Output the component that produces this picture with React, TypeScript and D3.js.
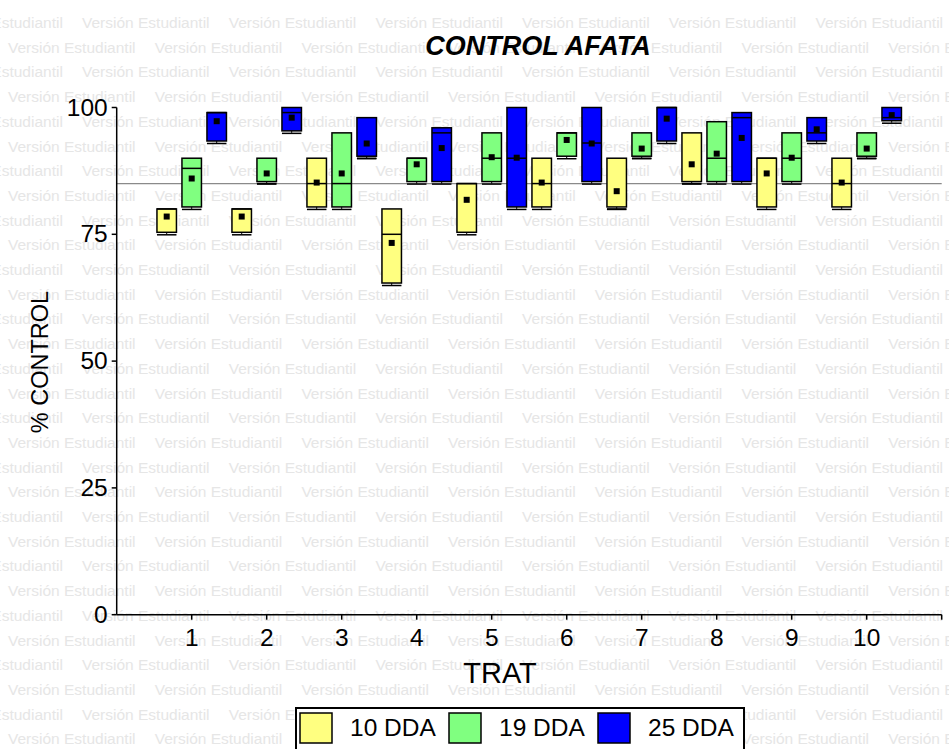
import React from "react";
import { scaleLinear, scaleOrdinal, range } from "d3";

// treatments and series
const trats = [1, 2, 3, 4, 5, 6, 7, 8, 9, 10];
const seriesNames = ["10 DDA", "19 DDA", "25 DDA"];
const seriesColors = ["#ffff80", "#80ff80", "#0000ff"];

// 10 DDA
const q1_10 = [75, 75, 80, 65, 75, 80, 80, 85, 80, 80];
const q3_10 = [80, 80, 90, 80, 85, 90, 90, 95, 90, 90];
const med_10 = [80, 80, 85, 75, 85, 85, 80, 85, 90, 85];
const mean_10 = [78.5, 78.5, 85.2, 73.3, 81.8, 85.2, 83.5, 88.8, 87, 85.2];

// 19 DDA
const q1_19 = [80, 85, 80, 85, 85, 90, 90, 85, 85, 90];
const q3_19 = [90, 90, 95, 90, 95, 95, 95, 97.2, 95, 95];
const med_19 = [88, 85, 85, 90, 90, 95, 90, 90, 90, 90];
const mean_19 = [86, 87, 87, 88.8, 90.2, 93.6, 91.9, 90.9, 90.1, 91.9];

// 25 DDA
const q1_25 = [93, 95, 90, 85, 80, 85, 93, 85, 93, 97];
const q3_25 = [99, 100, 98, 96, 100, 100, 100, 99, 98, 100];
const med_25 = [99, 99, 90, 95, 90, 93, 100, 98, 95, 98];
const mean_25 = [97.3, 98, 92.9, 92, 90.1, 92.9, 97.8, 94, 95.7, 98.5];

const yTicks = [0, 25, 50, 75, 100];
const refValue = 85;

const W = 949;
const H = 749;
const FONT = "'Liberation Sans', Arial, sans-serif";

const App = () => {
  const x = scaleLinear().domain([0, 11]).range([116.7, 941.7]);
  const y = scaleLinear().domain([0, 100]).range([614.7, 107.5]);
  const color = scaleOrdinal<string, string>().domain(seriesNames).range(seriesColors);

  const groups = [
    { name: seriesNames[0], q1: q1_10, q3: q3_10, med: med_10, mean: mean_10, off: -1 / 3 },
    { name: seriesNames[1], q1: q1_19, q3: q3_19, med: med_19, mean: mean_19, off: 0 },
    { name: seriesNames[2], q1: q1_25, q3: q3_25, med: med_25, mean: mean_25, off: 1 / 3 },
  ];
  const bw = x(0.26) - x(0);

  // watermark rows
  const rowStep = 24.7;
  const colStep = 146.7;
  const watermark = range(30).map((r) => {
    const start = r % 2 === 0 ? -64.7 : 8;
    return range(8).map((c) => (
      <text
        key={`${r}-${c}`}
        x={start + c * colStep}
        y={28 + r * rowStep}
        fontSize={15.5}
        fill="#e6e6e6"
      >
        Versión Estudiantil
      </text>
    ));
  });

  const boxes = groups.map((g) =>
    trats.map((t, i) => {
      const cx = x(t + g.off);
      const top = y(g.q3[i]);
      const bot = y(g.q1[i]);
      return (
        <g key={`${g.name}-${t}`}>
          <rect
            x={cx - bw / 2}
            y={top}
            width={bw}
            height={Math.max(bot - top - 2, 1)}
            fill={color(g.name)}
            stroke="#000"
            strokeWidth={1.5}
          />
          <line x1={cx} x2={cx} y1={bot - 2} y2={bot} stroke="#000" strokeWidth={1} />
          <line x1={cx - bw / 2} x2={cx + bw / 2} y1={bot + 0.5} y2={bot + 0.5} stroke="#000" strokeWidth={1.5} />
          <line
            x1={cx - bw / 2}
            x2={cx + bw / 2}
            y1={y(g.med[i])}
            y2={y(g.med[i])}
            stroke="#000"
            strokeWidth={1.5}
          />
          <rect x={cx - 3} y={y(g.mean[i]) - 3} width={6} height={6} fill="#000" />
        </g>
      );
    })
  );

  return (
    <svg
      width={W}
      height={H}
      viewBox={`0 0 ${W} ${H}`}
      style={{ position: "absolute", left: 0, top: 0, background: "#fff" }}
      fontFamily={FONT}
    >
      <rect width={W} height={H} fill="#fff" />
      <g>{watermark}</g>

      {/* reference line */}
      <line x1={x(0)} x2={x(11)} y1={y(refValue)} y2={y(refValue)} stroke="#8a8a8a" strokeWidth={1.2} />

      {boxes}

      {/* axes */}
      <line x1={x(0)} x2={x(0)} y1={y(100)} y2={y(0)} stroke="#000" strokeWidth={1.5} />
      <line x1={x(0)} x2={x(11)} y1={y(0)} y2={y(0)} stroke="#000" strokeWidth={1.5} />
      {yTicks.map((v) => (
        <g key={v}>
          <line x1={x(0) - 5} x2={x(0)} y1={y(v)} y2={y(v)} stroke="#000" strokeWidth={1.5} />
          <text x={x(0) - 9} y={y(v) + 8} textAnchor="end" fontSize={24.5} fill="#000">
            {v}
          </text>
        </g>
      ))}
      {trats.map((t) => (
        <g key={t}>
          <line x1={x(t)} x2={x(t)} y1={y(0)} y2={y(0) + 5} stroke="#000" strokeWidth={1.5} />
          <text x={x(t)} y={y(0) + 31} textAnchor="middle" fontSize={24.5} fill="#000">
            {t}
          </text>
        </g>
      ))}
      <line x1={x(11)} x2={x(11)} y1={y(0)} y2={y(0) + 5} stroke="#000" strokeWidth={1.5} />

      {/* titles */}
      <text x={538} y={55} textAnchor="middle" fontSize={27} fontWeight="bold" fontStyle="italic" fill="#000">
        CONTROL AFATA
      </text>
      <text x={500} y={683} textAnchor="middle" fontSize={29} fill="#000">
        TRAT
      </text>
      <text
        transform="translate(48,362) rotate(-90)"
        textAnchor="middle"
        fontSize={23.5}
        fill="#000"
      >
        % CONTROL
      </text>

      {/* legend */}
      <rect x={296} y={708} width={448} height={50} fill="#fff" stroke="#000" strokeWidth={2} />
      {seriesNames.map((s, i) => (
        <g key={s} transform={`translate(${300 + i * 149},713)`}>
          <rect width={32} height={30} fill={color(s)} stroke="#000" strokeWidth={1.5} />
          <text x={50} y={23} fontSize={24.5} fill="#000">
            {s}
          </text>
        </g>
      ))}
    </svg>
  );
};

export default App;
